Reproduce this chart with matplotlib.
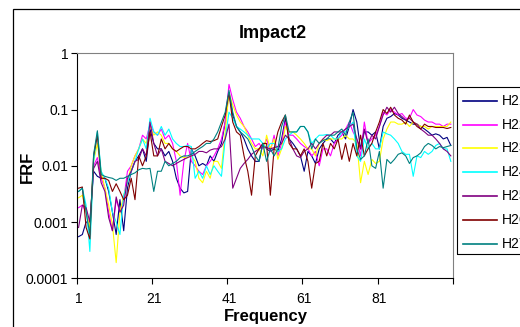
import matplotlib
matplotlib.use("Agg")
import matplotlib.pyplot as plt
from matplotlib.lines import Line2D
from matplotlib.patches import Rectangle
from matplotlib.ticker import FixedLocator, FixedFormatter, NullLocator

plt.rcParams['font.family'] = ['Liberation Sans', 'DejaVu Sans']

# FRF values, one per frequency bin 1..100
h21 = [0.00055, 0.0006, 0.001, 0.001, 0.008, 0.0065, 0.006, 0.006, 0.0035, 0.0015,
       0.0006, 0.0025, 0.0007, 0.004, 0.008, 0.012, 0.015, 0.02, 0.012, 0.045,
       0.025, 0.02, 0.02, 0.015, 0.018, 0.012, 0.006, 0.004, 0.0033, 0.0035,
       0.02, 0.015, 0.01, 0.011, 0.01, 0.015, 0.012, 0.018, 0.025, 0.06,
       0.2, 0.08, 0.05, 0.04, 0.03, 0.02, 0.015, 0.012, 0.012, 0.025,
       0.02, 0.018, 0.02, 0.018, 0.03, 0.07, 0.03, 0.025, 0.02, 0.015,
       0.008, 0.018, 0.015, 0.011, 0.02, 0.025, 0.03, 0.03, 0.025, 0.035,
       0.04, 0.03, 0.05, 0.1, 0.06, 0.02, 0.04, 0.04, 0.035, 0.04,
       0.02, 0.05, 0.07, 0.075, 0.085, 0.08, 0.07, 0.065, 0.06, 0.055,
       0.055, 0.05, 0.045, 0.04, 0.035, 0.037, 0.035, 0.03, 0.032, 0.023]
h22 = [0.0018, 0.002, 0.0015, 0.0008, 0.01, 0.014, 0.006, 0.004, 0.0015, 0.0007,
       0.0025, 0.0015, 0.0025, 0.008, 0.01, 0.015, 0.02, 0.035, 0.03, 0.055,
       0.04, 0.035, 0.045, 0.03, 0.035, 0.025, 0.012, 0.003, 0.012, 0.025,
       0.012, 0.01, 0.008, 0.007, 0.01, 0.012, 0.015, 0.02, 0.03, 0.06,
       0.28, 0.15, 0.09, 0.07, 0.05, 0.04, 0.03, 0.022, 0.025, 0.02,
       0.03, 0.018, 0.035, 0.015, 0.025, 0.06, 0.035, 0.035, 0.03, 0.025,
       0.022, 0.02, 0.015, 0.018, 0.01, 0.02, 0.02, 0.015, 0.025, 0.03,
       0.035, 0.045, 0.06, 0.04, 0.03, 0.015, 0.06, 0.025, 0.03, 0.035,
       0.05, 0.09, 0.08, 0.1, 0.09, 0.08, 0.085, 0.07, 0.07, 0.1,
       0.08, 0.075, 0.065, 0.06, 0.06, 0.055, 0.055, 0.05, 0.055, 0.055]
h23 = [0.0027, 0.003, 0.0015, 0.0008, 0.012, 0.025, 0.008, 0.004, 0.002, 0.0009,
       0.00019, 0.0015, 0.003, 0.005, 0.01, 0.015, 0.02, 0.03, 0.025, 0.05,
       0.035, 0.04, 0.035, 0.025, 0.025, 0.02, 0.018, 0.015, 0.014, 0.014,
       0.015, 0.012, 0.006, 0.005, 0.008, 0.006, 0.012, 0.012, 0.009, 0.04,
       0.2, 0.12, 0.08, 0.06, 0.05, 0.035, 0.025, 0.02, 0.02, 0.015,
       0.035, 0.02, 0.03, 0.013, 0.02, 0.05, 0.04, 0.04, 0.035, 0.03,
       0.025, 0.02, 0.02, 0.015, 0.025, 0.03, 0.028, 0.03, 0.03, 0.03,
       0.03, 0.035, 0.03, 0.03, 0.025, 0.005, 0.012, 0.007, 0.013, 0.011,
       0.012, 0.03, 0.045, 0.06, 0.06, 0.055, 0.055, 0.06, 0.05, 0.06,
       0.055, 0.05, 0.05, 0.045, 0.05, 0.05, 0.05, 0.05, 0.05, 0.06]
h24 = [0.0035, 0.004, 0.002, 0.0003, 0.012, 0.04, 0.008, 0.006, 0.004, 0.0015,
       0.001, 0.0006, 0.003, 0.005, 0.008, 0.012, 0.02, 0.03, 0.02, 0.07,
       0.04, 0.035, 0.05, 0.035, 0.045, 0.03, 0.025, 0.022, 0.022, 0.023,
       0.022, 0.006, 0.008, 0.006, 0.01, 0.007, 0.01, 0.008, 0.0065, 0.03,
       0.09, 0.07, 0.05, 0.045, 0.04, 0.035, 0.03, 0.03, 0.03, 0.025,
       0.02, 0.025, 0.025, 0.018, 0.02, 0.03, 0.035, 0.04, 0.04, 0.05,
       0.05, 0.04, 0.025, 0.03, 0.035, 0.035, 0.036, 0.035, 0.03, 0.03,
       0.04, 0.04, 0.05, 0.06, 0.015, 0.012, 0.03, 0.02, 0.025, 0.02,
       0.02, 0.04, 0.037, 0.035, 0.03, 0.025, 0.018, 0.016, 0.016, 0.0065,
       0.015, 0.014, 0.018, 0.016, 0.018, 0.023, 0.025, 0.02, 0.02, 0.012]
h25 = [0.0008, 0.002, 0.0018, 0.001, 0.009, 0.012, 0.005, 0.0035, 0.0012, 0.0007,
       0.0028, 0.0015, 0.002, 0.006, 0.008, 0.012, 0.013, 0.02, 0.015, 0.06,
       0.025, 0.015, 0.02, 0.012, 0.011, 0.01, 0.011, 0.012, 0.013, 0.014,
       0.015, 0.016, 0.018, 0.018, 0.017, 0.019, 0.02, 0.02, 0.022, 0.03,
       0.055, 0.004, 0.006, 0.009, 0.011, 0.013, 0.016, 0.018, 0.02, 0.022,
       0.021, 0.02, 0.021, 0.022, 0.025, 0.035, 0.03, 0.02, 0.015, 0.014,
       0.018, 0.02, 0.025, 0.02, 0.025, 0.03, 0.035, 0.035, 0.04, 0.04,
       0.04, 0.045, 0.05, 0.055, 0.03, 0.02, 0.045, 0.025, 0.035, 0.03,
       0.05, 0.08, 0.11, 0.09, 0.11, 0.085, 0.075, 0.065, 0.07, 0.06,
       0.055, 0.045, 0.04, 0.035, 0.035, 0.03, 0.025, 0.02, 0.018, 0.015]
h26 = [0.004, 0.0042, 0.0008, 0.0005, 0.015, 0.035, 0.006, 0.006, 0.0055, 0.0035,
       0.0048, 0.0035, 0.0025, 0.003, 0.006, 0.0025, 0.015, 0.01, 0.015, 0.04,
       0.015, 0.015, 0.03, 0.02, 0.025, 0.02, 0.018, 0.02, 0.022, 0.022,
       0.02, 0.02, 0.022, 0.025, 0.028, 0.027, 0.028, 0.03, 0.05, 0.08,
       0.2, 0.06, 0.04, 0.035, 0.015, 0.008, 0.003, 0.015, 0.02, 0.025,
       0.025, 0.003, 0.02, 0.04, 0.06, 0.08, 0.025, 0.02, 0.02, 0.015,
       0.02, 0.012, 0.004, 0.011, 0.012, 0.025, 0.015, 0.025, 0.02, 0.03,
       0.013, 0.025, 0.012, 0.025, 0.015, 0.035, 0.015, 0.02, 0.025, 0.04,
       0.06, 0.1, 0.085, 0.11, 0.08, 0.07, 0.065, 0.055, 0.08, 0.06,
       0.05, 0.045, 0.055, 0.05, 0.05, 0.048, 0.048, 0.048, 0.046, 0.048]
h27 = [0.0035, 0.004, 0.0015, 0.0006, 0.016, 0.042, 0.007, 0.0065, 0.0062, 0.006,
       0.0055, 0.006, 0.006, 0.0065, 0.007, 0.0075, 0.0085, 0.009, 0.0088, 0.009,
       0.0035, 0.008, 0.008, 0.012, 0.01, 0.011, 0.012, 0.014, 0.015, 0.015,
       0.016, 0.018, 0.02, 0.022, 0.025, 0.025, 0.03, 0.04, 0.06, 0.09,
       0.22, 0.09, 0.05, 0.04, 0.035, 0.03, 0.022, 0.015, 0.012, 0.025,
       0.012, 0.02, 0.015, 0.02, 0.05, 0.08, 0.04, 0.04, 0.04, 0.05,
       0.05, 0.04, 0.02, 0.03, 0.025, 0.028, 0.03, 0.035, 0.035, 0.04,
       0.045, 0.035, 0.06, 0.09, 0.02, 0.013, 0.015, 0.03, 0.01, 0.009,
       0.018, 0.004, 0.013, 0.011, 0.013, 0.016, 0.017, 0.015, 0.011, 0.014,
       0.015, 0.017, 0.022, 0.025, 0.023, 0.02, 0.022, 0.021, 0.022, 0.023]

names = ['H21', 'H22', 'H23', 'H24', 'H25', 'H26', 'H27']
colors = ['#000080', '#FF00FF', '#FFFF00', '#00FFFF', '#800080', '#800000', '#008080']
series = [h21, h22, h23, h24, h25, h26, h27]
freq = list(range(1, 101))
xlabels = ['1', '21', '41', '61', '81']
ylabels = ['0.0001', '0.001', '0.01', '0.1', '1']

W, H = 520, 327
fig = plt.figure(figsize=(W / 100, H / 100), dpi=100)

# outer chart border (runs off the right and bottom of the image)
fig.add_artist(Rectangle((12.7 / W, -0.1), 1.2, 1 - 9 / H + 0.1, transform=fig.transFigure,
                         fill=False, edgecolor='black', linewidth=0.9))

ax = fig.add_axes([76.7 / W, 1 - 278.3 / H, 376 / W, 225 / H])
for name, col, vals in zip(names, colors, series):
    ax.plot(freq, vals, color=col, linewidth=0.8)

ax.set_yscale('log')
ax.set_ylim(1e-4, 1)
ax.set_xlim(0.5, 100.5)
ax.yaxis.set_major_locator(FixedLocator([1e-4, 1e-3, 1e-2, 1e-1, 1]))
ax.yaxis.set_major_formatter(FixedFormatter(ylabels))
ax.yaxis.set_minor_locator(NullLocator())
ax.xaxis.set_major_locator(FixedLocator([0.5, 20.5, 40.5, 60.5, 80.5, 100.5]))
ax.xaxis.set_major_formatter(FixedFormatter([''] * 6))
ax.xaxis.set_minor_locator(FixedLocator([1, 21, 41, 61, 81]))
ax.xaxis.set_minor_formatter(FixedFormatter(xlabels))
ax.tick_params(axis='x', which='major', direction='out', length=4, width=0.8)
ax.tick_params(axis='x', which='minor', length=0, pad=10, labelsize=10)
ax.tick_params(axis='y', which='major', direction='out', length=4, width=0.8, pad=2, labelsize=10)
ax.spines['top'].set_color('#808080')
ax.spines['right'].set_color('#808080')
for s in ax.spines.values():
    s.set_linewidth(0.8)

fig.text(273 / W, 1 - 33 / H, 'Impact2', ha='center', va='center', fontsize=13, fontweight='bold')
fig.text(266 / W, 1 - 316 / H, 'Frequency', ha='center', va='center', fontsize=12, fontweight='bold')
fig.text(27 / W, 1 - 167 / H, 'FRF', ha='center', va='center', rotation=90, fontsize=12, fontweight='bold')

# legend box drawn by hand, cut by the image edge like the original
fig.add_artist(Rectangle((457.3 / W, 1 - 254 / H), 0.3, (254 - 87.3) / H, transform=fig.transFigure,
                         fill=False, edgecolor='black', linewidth=0.8))
for i, (name, col) in enumerate(zip(names, colors)):
    yy = 1 - (100.7 + i * 23.8) / H
    fig.add_artist(Line2D([462.7 / W, 496.7 / W], [yy, yy], transform=fig.transFigure,
                          color=col, linewidth=1.2))
    fig.text(501.7 / W, yy, name, ha='left', va='center', fontsize=10)

fig.savefig('out.png', dpi=100)
